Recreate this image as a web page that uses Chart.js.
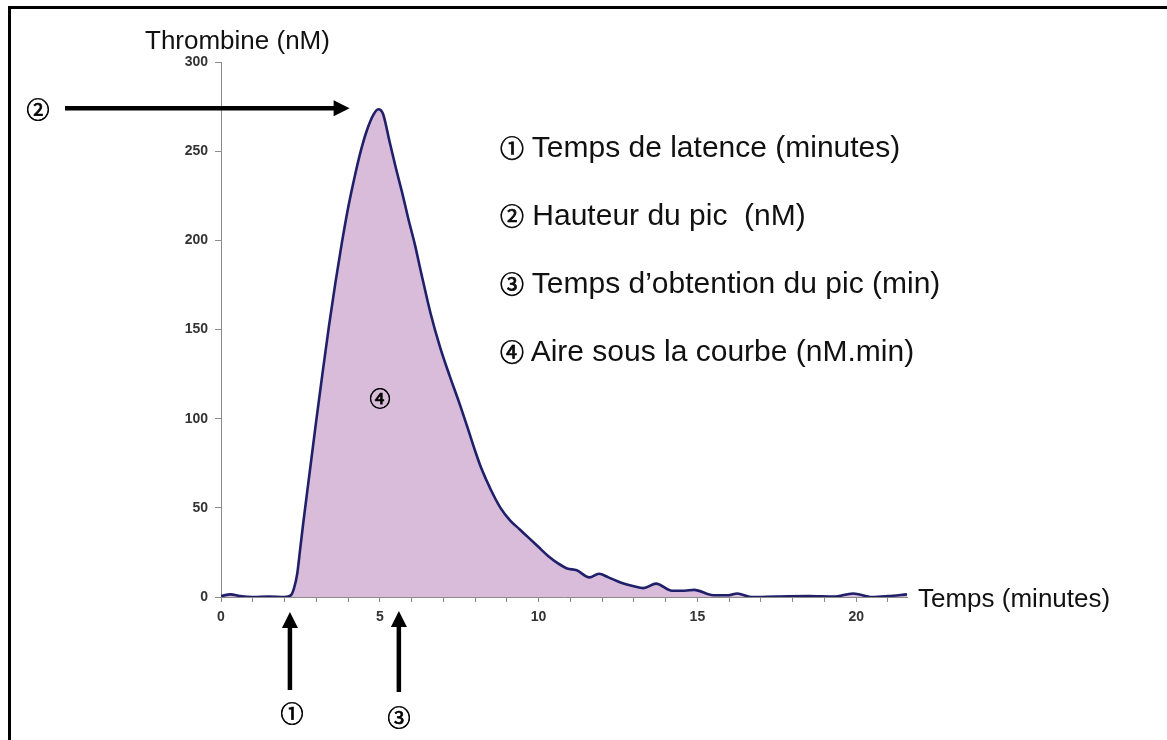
<!DOCTYPE html>
<html>
<head>
<meta charset="utf-8">
<script src="https://cdn.jsdelivr.net/npm/chart.js@4/dist/chart.umd.min.js"></script>
<style>
  html, body { margin: 0; padding: 0; background: #fff; }
  #wrap { position: relative; width: 1167px; height: 740px; overflow: hidden; background:#fff; }
  #c { position: absolute; left: 0; top: 0; }
  #frame { position: absolute; left: 8px; top: 6px; width: 1160px; height: 740px;
           border-top: 3px solid #000; border-left: 3px solid #000; box-sizing: border-box; }
  .t { position: absolute; font-family: "Liberation Sans", Arial, sans-serif;
       color: #111; white-space: nowrap; line-height: 1; transform: translateY(-50%); }
  .cn { font-family: "Noto Sans CJK JP", "DejaVu Sans", sans-serif; font-weight: normal;
        -webkit-text-stroke: 0.7px #000; }
  .circ { position: absolute; color: #000; line-height: 1; transform: translate(-50%, -50%); font-size: 23px; }
  .leg { font-size: 30px; }
</style>
</head>
<body>
<div id="wrap">
  <canvas id="c" width="1167" height="740"></canvas>
  <div id="frame"></div>
  <div class="t" style="left:145px; top:40px; font-size:26px;">Thrombine (nM)</div>
  <div class="t" style="left:918px; top:598px; font-size:26px;">Temps (minutes)</div>
  <div class="t leg" style="left:500px; top:147px;"><span class="cn" style="font-size:24px">①</span> Temps de latence (minutes)</div>
  <div class="t leg" style="left:500px; top:215px;"><span class="cn" style="font-size:24px">②</span> Hauteur du pic &nbsp;(nM)</div>
  <div class="t leg" style="left:500px; top:283px;"><span class="cn" style="font-size:24px">③</span> Temps d’obtention du pic (min)</div>
  <div class="t leg" style="left:500px; top:351px;"><span class="cn" style="font-size:24px">④</span> Aire sous la courbe (nM.min)</div>
  <div class="circ cn" style="left:38px; top:108px;">②</div>
  <div class="circ cn" style="left:292px; top:712px;">①</div>
  <div class="circ cn" style="left:399px; top:716px;">③</div>
  <div class="circ cn" style="left:380px; top:397px; font-size:21px;">④</div>
</div>
<script>
// ---- data ----
const timeMin = [0, 0.3, 0.6, 1.0, 1.5, 2.0, 2.2, 2.3, 2.4, 2.5, 2.6, 2.8, 3.0, 3.2, 3.4, 3.6, 3.8, 4.0, 4.2, 4.4, 4.6, 4.8, 4.95,
  5.1, 5.3, 5.5, 5.7, 5.9, 6.1, 6.3, 6.6, 6.9, 7.2, 7.5, 7.8, 8.0, 8.2, 8.5, 8.8, 9.1, 9.4, 9.7, 10.0, 10.3, 10.6, 10.9,
  11.2, 11.6, 11.9, 12.2, 12.6, 13.0, 13.3, 13.7, 14.2, 14.6, 14.9, 15.5, 16.0, 16.25, 16.7, 17.5, 18.5, 19.3, 19.9, 20.5, 21.0, 21.6];
const thrombinNM = [0.5, 1.5, 0.5, 0, 0.3, 0, 1, 5, 13, 28, 43, 71, 99, 126, 152, 176, 198, 218, 235, 250, 262, 270.5, 273.5,
  271, 256, 241, 227, 212, 198, 182, 159, 140, 124, 109, 93, 82, 72, 60, 50, 43, 38, 33, 28, 23, 19, 16,
  15, 11, 13, 11, 8, 6, 5, 7.5, 3.5, 3.5, 4, 1, 1, 2, 0, 0.3, 0.5, 0.2, 2, 0, 0.5, 1.5];
const yTicks = [0, 50, 100, 150, 200, 250, 300];
const xLabelStep = 5;
const xMax = 21.6;
// annotation anchors (data units)
const latencyTime = 2.17;      // arrow ①
const peakTimeArrow = 5.6;     // arrow ③
const peakHeight = 274;        // arrow ②
const peakArrowTipTime = 4.05;

const annotate = {
  id: 'annotate',
  afterDraw(chart) {
    const ctx = chart.ctx, xs = chart.scales.x, ys = chart.scales.y;
    function arrow(x1, y1, x2, y2) {
      const ang = Math.atan2(y2 - y1, x2 - x1), hl = 16, hw = 8;
      const bx = x2 - hl * Math.cos(ang), by = y2 - hl * Math.sin(ang);
      ctx.save();
      ctx.strokeStyle = '#000'; ctx.fillStyle = '#000'; ctx.lineWidth = 4.5;
      ctx.beginPath(); ctx.moveTo(x1, y1); ctx.lineTo(bx + 2 * Math.cos(ang), by + 2 * Math.sin(ang)); ctx.stroke();
      ctx.beginPath();
      ctx.moveTo(x2, y2);
      ctx.lineTo(bx + hw * Math.sin(ang), by - hw * Math.cos(ang));
      ctx.lineTo(bx - hw * Math.sin(ang), by + hw * Math.cos(ang));
      ctx.closePath(); ctx.fill();
      ctx.restore();
    }
    const yPk = ys.getPixelForValue(peakHeight);
    arrow(65, yPk, xs.getPixelForValue(peakArrowTipTime), yPk);
    const xl = xs.getPixelForValue(latencyTime);
    arrow(xl, 690, xl, 612);
    const xp = xs.getPixelForValue(peakTimeArrow);
    arrow(xp, 692, xp, 611);
  }
};

new Chart(document.getElementById('c'), {
  type: 'line',
  data: {
    datasets: [{
      data: timeMin.map((t, i) => ({ x: t, y: thrombinNM[i] })),
      borderColor: '#1f1f6a',
      borderWidth: 2.6,
      backgroundColor: 'rgb(216,188,217)',
      fill: 'origin',
      pointRadius: 0,
      cubicInterpolationMode: 'monotone'
    }]
  },
  options: {
    responsive: false,
    animation: false,
    layout: { padding: { left: 0, top: 62, right: 260, bottom: 0 } },
    plugins: { legend: { display: false }, tooltip: { enabled: false } },
    scales: {
      x: {
        type: 'linear', min: 0, max: xMax,
        afterFit(s) { s.height = 143; },
        border: { color: '#8a8a8a', width: 1 },
        grid: { drawOnChartArea: false, tickLength: 5, color: '#8a8a8a' },
        ticks: {
          stepSize: 1, includeBounds: false, autoSkip: false, maxRotation: 0, padding: 7,
          color: '#333', font: { family: 'Liberation Sans', weight: 'bold', size: 14 },
          callback: v => (v % xLabelStep === 0 ? String(v) : '')
        }
      },
      y: {
        type: 'linear', min: 0, max: 300,
        afterFit(s) { s.width = 221; },
        afterBuildTicks(s) { s.ticks = yTicks.map(v => ({ value: v })); },
        border: { color: '#8a8a8a', width: 1 },
        grid: { drawOnChartArea: false, tickLength: 6, color: '#8a8a8a' },
        ticks: {
          padding: 7, color: '#333', font: { family: 'Liberation Sans', weight: 'bold', size: 14 }
        }
      }
    }
  },
  plugins: [annotate]
});
</script>
</body>
</html>
